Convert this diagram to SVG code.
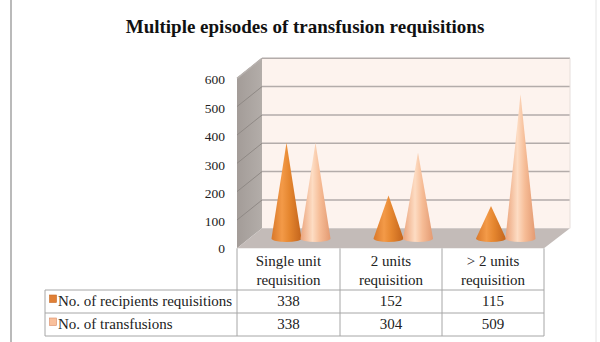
<svg xmlns="http://www.w3.org/2000/svg" width="600" height="342" viewBox="0 0 600 342">
  <style>
    .title { font-family: "Liberation Serif", "Times New Roman", serif; font-size: 19px; font-weight: bold; fill: #111; }
    .axis { font-family: "Liberation Serif", "Times New Roman", serif; font-size: 13.5px; fill: #222; text-anchor: end; }
    .cell { font-family: "Liberation Serif", "Times New Roman", serif; font-size: 15px; fill: #222; text-anchor: middle; }
    .leg { font-family: "Liberation Serif", "Times New Roman", serif; font-size: 15px; fill: #222; }
    .grid { stroke: #b3acaa; stroke-width: 1.5; fill: none; }
    .sidegrid { stroke: #8f8985; stroke-width: 1; fill: none; }
    .tbl { stroke: #a6a6a6; stroke-width: 1; fill: none; }
  </style>
  <defs>
    <linearGradient id="coneDark" x1="0" y1="0" x2="1" y2="0">
      <stop offset="0" stop-color="#d9782a"/>
      <stop offset="0.35" stop-color="#f39a48"/>
      <stop offset="0.6" stop-color="#e5862f"/>
      <stop offset="1" stop-color="#c3641c"/>
    </linearGradient>
    <linearGradient id="coneLight" x1="0" y1="0" x2="1" y2="0">
      <stop offset="0" stop-color="#eba47c"/>
      <stop offset="0.4" stop-color="#fddcc3"/>
      <stop offset="0.65" stop-color="#f6bc96"/>
      <stop offset="1" stop-color="#e39a72"/>
    </linearGradient>
    <linearGradient id="sideWall" x1="0" y1="0" x2="1" y2="0">
      <stop offset="0" stop-color="#a39c98"/>
      <stop offset="1" stop-color="#b3ada9"/>
    </linearGradient>
  </defs>

  <!-- frame edges -->
  <line x1="11" y1="0" x2="11" y2="342" stroke="#8c8c8c" stroke-width="1.2"/>
  <line x1="596" y1="0" x2="596" y2="342" stroke="#e4e4e4" stroke-width="1"/>

  <text class="title" x="305" y="33" text-anchor="middle">Multiple episodes of transfusion requisitions</text>

  <!-- 3D plot area: walls and floor -->
  <g id="plot-area">
    <rect x="262" y="58.3" width="308" height="170" fill="#fdf3ee"/>
    <polygon points="237,78.3 262,58.3 262,228.3 237,248.3" fill="url(#sideWall)"/>
    <polygon points="237,248.3 544,248.3 570,228.3 262,228.3" fill="#c3bbb8"/>
    <!-- horizontal gridlines, back wall -->
    <path class="grid" d="M262 58.3H570M262 86.6H570M262 115H570M262 143.3H570M262 171.6H570M262 200H570"/>
    <line x1="570" y1="58.3" x2="570" y2="228.3" stroke="#e6dedb" stroke-width="1"/>
    <!-- gridlines, side wall -->
    <path class="sidegrid" d="M237 78.3L262 58.3M237 106.6L262 86.6M237 135L262 115M237 163.3L262 143.3M237 191.6L262 171.6M237 220L262 200"/>
    <line x1="237" y1="78.3" x2="262" y2="58.3" stroke="#b8b2af" stroke-width="1.5"/>
  </g>

  <!-- value axis -->
  <g id="value-axis">
    <text class="axis" x="225" y="84">600</text>
    <text class="axis" x="225" y="112.5">500</text>
    <text class="axis" x="225" y="141">400</text>
    <text class="axis" x="225" y="169.5">300</text>
    <text class="axis" x="225" y="197.5">200</text>
    <text class="axis" x="225" y="226">100</text>
    <text class="axis" x="225" y="253">0</text>
  </g>

  <!-- cones: No. of recipients requisitions (dark), No. of transfusions (light) -->
  <g id="series-recipients">
    <path d="M286.5 142.7L271.5 238.5A15 3.5 0 0 0 301.5 238.5Z" fill="url(#coneDark)"/>
    <path d="M388.5 195.4L373.5 238.5A15 3.5 0 0 0 403.5 238.5Z" fill="url(#coneDark)"/>
    <path d="M491 205.9L476 238.5A15 3.5 0 0 0 506 238.5Z" fill="url(#coneDark)"/>
  </g>
  <g id="series-transfusions">
    <path d="M315.5 142.7L300.5 238.5A15 3.5 0 0 0 330.5 238.5Z" fill="url(#coneLight)"/>
    <path d="M418 152.4L403 238.5A15 3.5 0 0 0 433 238.5Z" fill="url(#coneLight)"/>
    <path d="M520.5 94.3L505.5 238.5A15 3.5 0 0 0 535.5 238.5Z" fill="url(#coneLight)"/>
  </g>

  <!-- data table -->
  <g id="data-table">
    <path class="tbl" d="M237 248.3V336M340 248.3V336M442 248.3V336M544 248.3V336M45 290V336M45 290H544M45 313H544M45 336H544"/>
    <text class="cell" x="288.5" y="266">Single unit</text>
    <text class="cell" x="288.5" y="285">requisition</text>
    <text class="cell" x="391" y="266">2 units</text>
    <text class="cell" x="391" y="285">requisition</text>
    <text class="cell" x="493" y="266">&gt; 2 units</text>
    <text class="cell" x="493" y="285">requisition</text>

    <rect x="49.5" y="295" width="7" height="7.5" fill="#e07f35" stroke="#c56a25" stroke-width="0.6"/>
    <text class="leg" x="58" y="306">No. of recipients requisitions</text>
    <rect x="49.5" y="318" width="7" height="7.5" fill="#f9c09c" stroke="#d98b64" stroke-width="0.6"/>
    <text class="leg" x="58" y="329">No. of transfusions</text>

    <text class="cell" x="288.5" y="306">338</text>
    <text class="cell" x="391" y="306">152</text>
    <text class="cell" x="493" y="306">115</text>
    <text class="cell" x="288.5" y="329">338</text>
    <text class="cell" x="391" y="329">304</text>
    <text class="cell" x="493" y="329">509</text>
  </g>
</svg>
